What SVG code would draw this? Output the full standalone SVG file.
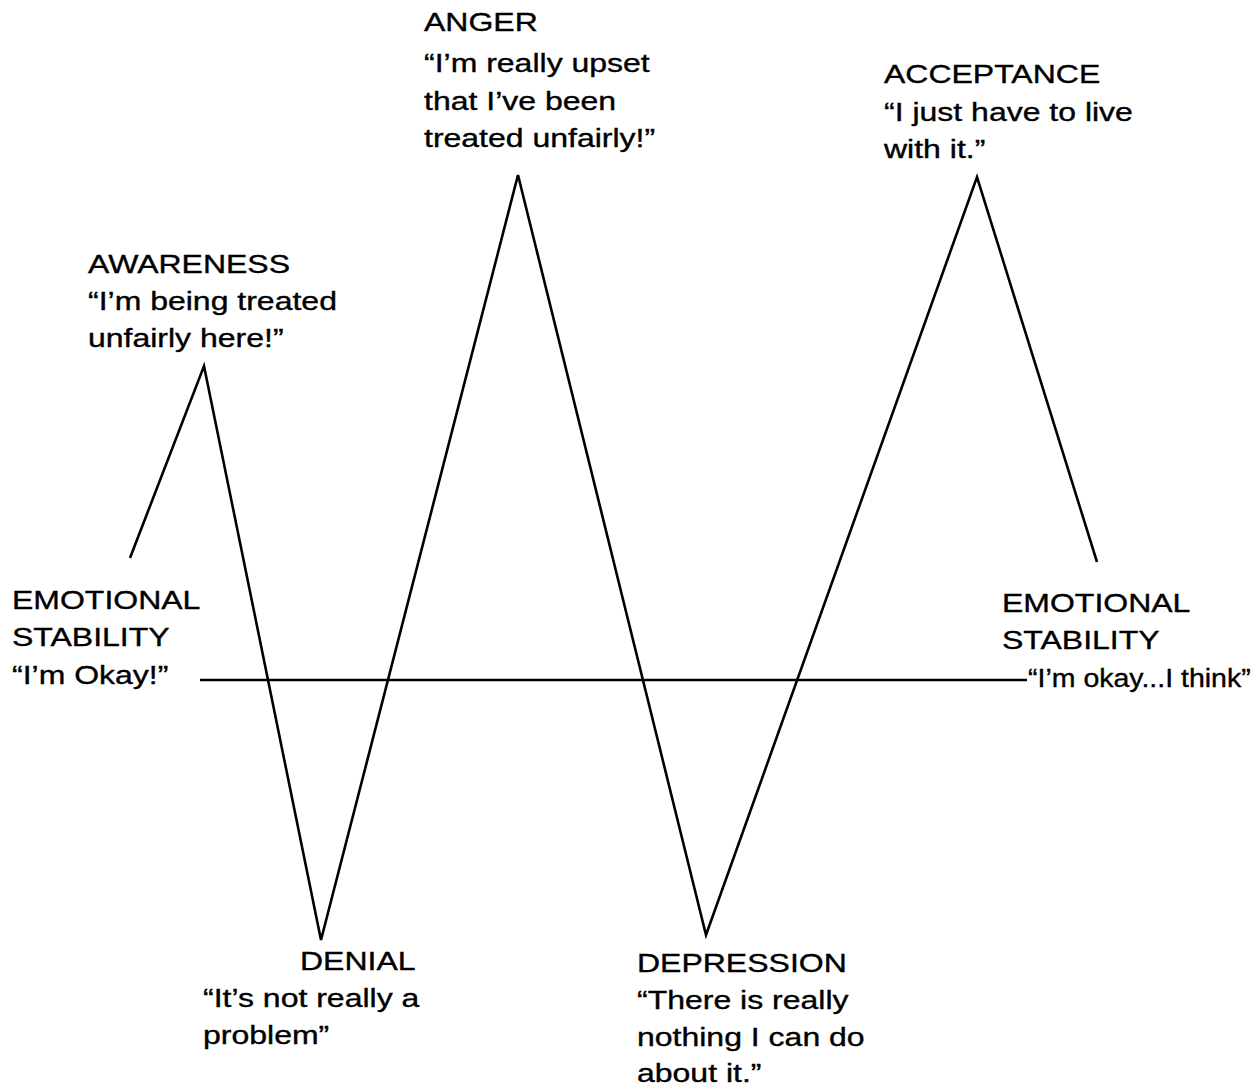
<svg xmlns="http://www.w3.org/2000/svg" width="1260" height="1089" viewBox="0 0 1260 1089">
<style>
text{font-family:"Liberation Sans",Arial,sans-serif;font-size:25px;fill:#000;stroke:#000;stroke-width:0.35}
.ln{fill:none;stroke:#000;stroke-width:2.6;stroke-linejoin:miter}
</style>
<rect width="1260" height="1089" fill="#fff"/>
<g id="connectors">
<polyline class="ln" points="130,558 204,366 321,940 518,175 706,935 977,177 1097,562"/>
<line class="ln" x1="200" y1="680" x2="1027" y2="680"/>
</g>
<g id="awareness" transform="translate(88,0) scale(1.28,1)"><text><tspan x="0" y="273">AWARENESS</tspan><tspan x="0" y="310">“I’m being treated</tspan><tspan x="0" y="347">unfairly here!”</tspan></text></g>
<g id="anger" transform="translate(424,0) scale(1.28,1)"><text><tspan x="0" y="31">ANGER</tspan><tspan x="0" y="72">“I’m really upset</tspan><tspan x="0" y="110">that I’ve been</tspan><tspan x="0" y="147">treated unfairly!”</tspan></text></g>
<g id="acceptance" transform="translate(884,0) scale(1.28,1)"><text><tspan x="0" y="83">ACCEPTANCE</tspan><tspan x="0" y="121">“I just have to live</tspan><tspan x="0" y="158">with it.”</tspan></text></g>
<g id="stability-left" transform="translate(12,0) scale(1.28,1)"><text><tspan x="0" y="609">EMOTIONAL</tspan><tspan x="0" y="646">STABILITY</tspan><tspan x="0" y="684">“I’m Okay!”</tspan></text></g>
<g id="stability-right">
<g transform="translate(1002,0) scale(1.28,1)"><text><tspan x="0" y="612">EMOTIONAL</tspan><tspan x="0" y="649">STABILITY</tspan></text></g>
<g transform="translate(1028,0) scale(1.14,1)"><text x="0" y="687">“I’m okay...I think”</text></g>
</g>
<g id="denial" transform="translate(203,0) scale(1.28,1)"><text><tspan x="75.8" y="970">DENIAL</tspan><tspan x="0" y="1007">“It’s not really a</tspan><tspan x="0" y="1044">problem”</tspan></text></g>
<g id="depression" transform="translate(637,0) scale(1.28,1)"><text><tspan x="0" y="972">DEPRESSION</tspan><tspan x="0" y="1009">“There is really</tspan><tspan x="0" y="1046">nothing I can do</tspan><tspan x="0" y="1082">about it.”</tspan></text></g>
</svg>
